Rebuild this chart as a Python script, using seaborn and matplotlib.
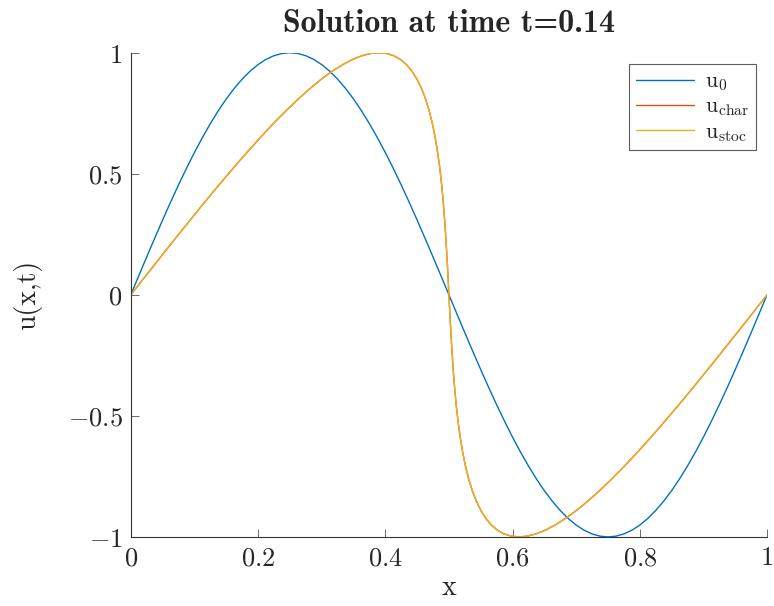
import matplotlib
matplotlib.use("Agg")
import matplotlib.pyplot as plt
import seaborn as sns
import pandas as pd

sns.set_style("ticks")
plt.rcParams['mathtext.fontset'] = 'cm'
plt.rcParams['font.family'] = ['DejaVu Serif']

# initial condition u0
x0 = [0, 0.0125, 0.025, 0.0375, 0.05, 0.0625, 0.075, 0.0875, 0.1, 0.1125,
      0.125, 0.1375, 0.15, 0.1625, 0.175, 0.1875, 0.2, 0.2125, 0.225, 0.2375,
      0.25, 0.2625, 0.275, 0.2875, 0.3, 0.3125, 0.325, 0.3375, 0.35, 0.3625,
      0.375, 0.3875, 0.4, 0.4125, 0.425, 0.4375, 0.45, 0.4625, 0.475, 0.4875,
      0.5, 0.5125, 0.525, 0.5375, 0.55, 0.5625, 0.575, 0.5875, 0.6, 0.6125,
      0.625, 0.6375, 0.65, 0.6625, 0.675, 0.6875, 0.7, 0.7125, 0.725, 0.7375,
      0.75, 0.7625, 0.775, 0.7875, 0.8, 0.8125, 0.825, 0.8375, 0.85, 0.8625,
      0.875, 0.8875, 0.9, 0.9125, 0.925, 0.9375, 0.95, 0.9625, 0.975, 0.9875, 1.0]
u0 = [0, 0.0785, 0.1564, 0.2334, 0.3090, 0.3827, 0.4540, 0.5225, 0.5878, 0.6494,
      0.7071, 0.7604, 0.8090, 0.8526, 0.8910, 0.9239, 0.9511, 0.9724, 0.9877, 0.9969,
      1.0, 0.9969, 0.9877, 0.9724, 0.9511, 0.9239, 0.8910, 0.8526, 0.8090, 0.7604,
      0.7071, 0.6494, 0.5878, 0.5225, 0.4540, 0.3827, 0.3090, 0.2334, 0.1564, 0.0785,
      0, -0.0785, -0.1564, -0.2334, -0.3090, -0.3827, -0.4540, -0.5225, -0.5878, -0.6494,
      -0.7071, -0.7604, -0.8090, -0.8526, -0.8910, -0.9239, -0.9511, -0.9724, -0.9877, -0.9969,
      -1.0, -0.9969, -0.9877, -0.9724, -0.9511, -0.9239, -0.8910, -0.8526, -0.8090, -0.7604,
      -0.7071, -0.6494, -0.5878, -0.5225, -0.4540, -0.3827, -0.3090, -0.2334, -0.1564, -0.0785, 0]

# solution at t=0.14 (same values, shifted positions)
xs = [0, 0.0235, 0.0469, 0.0702, 0.0933, 0.1161, 0.1386, 0.1607, 0.1823, 0.2034,
      0.2240, 0.2440, 0.2633, 0.2819, 0.2997, 0.3168, 0.3332, 0.3486, 0.3633, 0.3771,
      0.39, 0.4021, 0.4133, 0.4236, 0.4332, 0.4418, 0.4497, 0.4569, 0.4633, 0.4690,
      0.4740, 0.4784, 0.4823, 0.4857, 0.4886, 0.4911, 0.4933, 0.4952, 0.4969, 0.4985,
      0.5, 0.5015, 0.5031, 0.5048, 0.5067, 0.5089, 0.5114, 0.5143, 0.5177, 0.5216,
      0.5260, 0.5310, 0.5367, 0.5431, 0.5503, 0.5582, 0.5668, 0.5764, 0.5867, 0.5979,
      0.61, 0.6229, 0.6367, 0.6514, 0.6668, 0.6832, 0.7003, 0.7181, 0.7367, 0.7560,
      0.7760, 0.7966, 0.8177, 0.8393, 0.8614, 0.8839, 0.9067, 0.9298, 0.9531, 0.9765, 1.0]
us = u0

df0 = pd.DataFrame({"x": x0, "u": u0})
dft = pd.DataFrame({"x": xs, "u": us})

fig = plt.figure(figsize=(7.74, 6.06), dpi=100)
ax = fig.add_axes([0.169, 0.114, 0.822, 0.799])

sns.lineplot(data=df0, x="x", y="u", ax=ax, color="#0072BD", lw=1.0,
             label=r"$\mathrm{u_0}$", sort=False)
sns.lineplot(data=dft, x="x", y="u", ax=ax, color="#D95319", lw=1.0,
             label=r"$\mathrm{u_{char}}$", sort=False)
sns.lineplot(data=dft, x="x", y="u", ax=ax, color="#EDB120", lw=1.0,
             label=r"$\mathrm{u_{stoc}}$", sort=False)

ax.set_xlim(0, 1)
ax.set_ylim(-1, 1)
ax.set_xticks([0, 0.2, 0.4, 0.6, 0.8, 1])
ax.set_xticklabels([r"$0$", r"$0.2$", r"$0.4$", r"$0.6$", r"$0.8$", r"$1$"])
ax.set_yticks([-1, -0.5, 0, 0.5, 1])
ax.set_yticklabels([r"$-1$", r"$-0.5$", r"$0$", r"$0.5$", r"$1$"])
ax.tick_params(direction="in", labelsize=19, length=6, width=0.6, color="#555555", pad=6)
for s in ["top", "right"]:
    ax.spines[s].set_visible(False)
for s in ["left", "bottom"]:
    ax.spines[s].set_linewidth(0.8)
    ax.spines[s].set_color("#333333")

ax.set_xlabel("x", fontsize=20, labelpad=3, fontfamily="cmr10")
ax.set_ylabel("u(x,t)", fontsize=20, labelpad=18, fontfamily="cmr10")
ax.set_title("Solution at time t=0.14", fontsize=23, pad=15, fontfamily="cmb10")

leg = ax.legend(loc="upper right", fontsize=16, frameon=True, fancybox=False,
                edgecolor="#333333", handlelength=2.6, borderpad=0.3,
                labelspacing=0.1, handletextpad=0.5)
leg.get_frame().set_linewidth(0.8)

plt.savefig("out.png", dpi=100)
